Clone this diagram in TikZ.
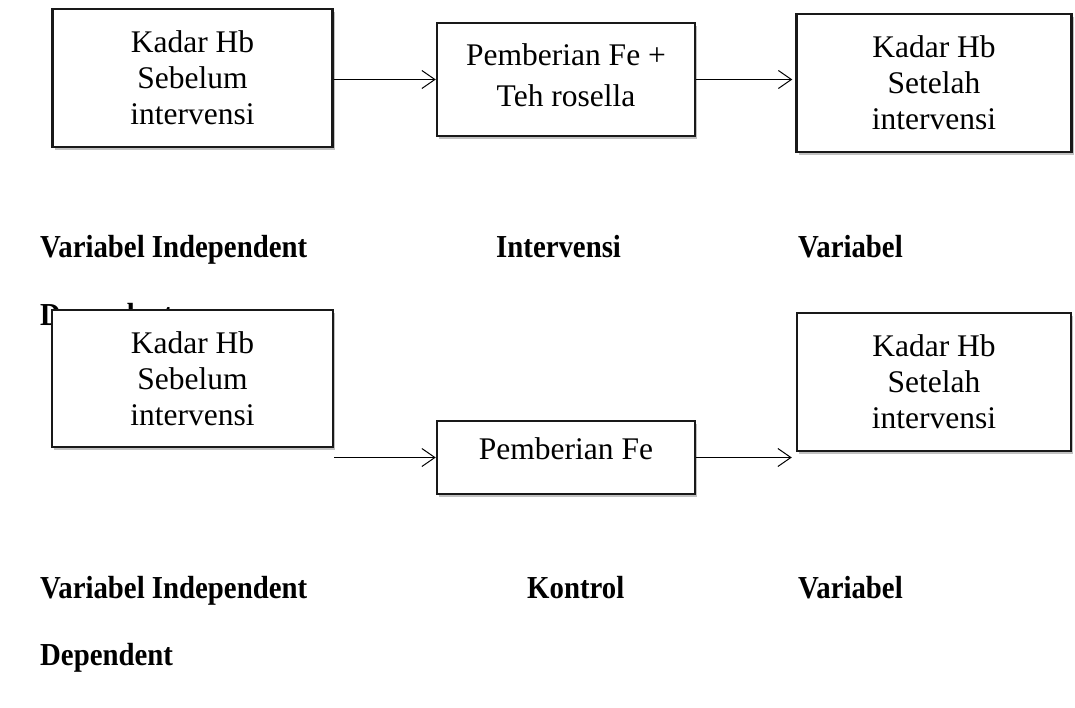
\documentclass[tikz,border=0pt]{standalone}
\usepackage{fontspec}
\setmainfont{Liberation Serif}
\newfontfamily\labelfont{Liberation Serif}[FakeStretch=0.9]
\usetikzlibrary{arrows.meta,shadows}

\tikzset{
  every box/.style={draw=black!90, line width=2.5pt, fill=white, align=center,
    inner sep=0pt, font=\fontsize{31.5}{36}\selectfont,
    drop shadow={shadow xshift=2pt, shadow yshift=-2.5pt, opacity=0.35, fill=black!70}},
  var label/.style={anchor=base west, inner sep=0pt,
    font=\fontsize{32}{36}\labelfont\bfseries},
  flow/.style={-{Straight Barb[length=13pt,width=18pt]}, line width=1pt},
}

\begin{document}
\begin{tikzpicture}[x=1pt, y=-1pt]
  \useasboundingbox (0,0) rectangle (1075,707);

  % variable labels, drawn first so the boxes cover them
  \foreach \txt/\lx/\ly [count=\i] in {Variabel Independent/40/257, Intervensi/496/257,
      Variabel/798/257, Dependent/40/325, Variabel Independent/40/598,
      Kontrol/527/598, Variabel/798/598, Dependent/40/665}
    \node [var label] (label-\i) at (\lx,\ly) {\txt};

  % first row: treatment group
  \node [every box, minimum width=280, minimum height=138] (hbpre-1) at (192.5,78)
    {Kadar Hb\\Sebelum\\intervensi};
  \node [every box, minimum width=258, minimum height=113, text depth=8pt,
    font=\fontsize{31.5}{41}\selectfont] (pemb-1) at (566,79.5)
    {Pemberian Fe +\\Teh rosella};
  \node [every box, minimum width=275, minimum height=138] (hbpost-1) at (934,83)
    {Kadar Hb\\Setelah\\intervensi};

  % second row: control group
  \node [every box, minimum width=281, minimum height=137] (hbpre-2) at (192.5,378.5)
    {Kadar Hb\\Sebelum\\intervensi};
  \node [every box, minimum width=258, minimum height=73, text depth=18pt]
    (pemb-2) at (566,457.5) {Pemberian Fe};
  \node [every box, minimum width=274, minimum height=138] (hbpost-2) at (934,382)
    {Kadar Hb\\Setelah\\intervensi};

  \draw [flow] (hbpre-1.east |- pemb-1.west) -- (pemb-1.west);
  \draw [flow, shorten >=3pt] (pemb-1.east) -- (hbpost-1.west |- pemb-1.east);
  \draw [flow] (hbpre-2.east |- pemb-2.west) -- (pemb-2.west);
  \draw [flow, shorten >=4pt] (pemb-2.east) -- (hbpost-2.west |- pemb-2.east);
\end{tikzpicture}
\end{document}
